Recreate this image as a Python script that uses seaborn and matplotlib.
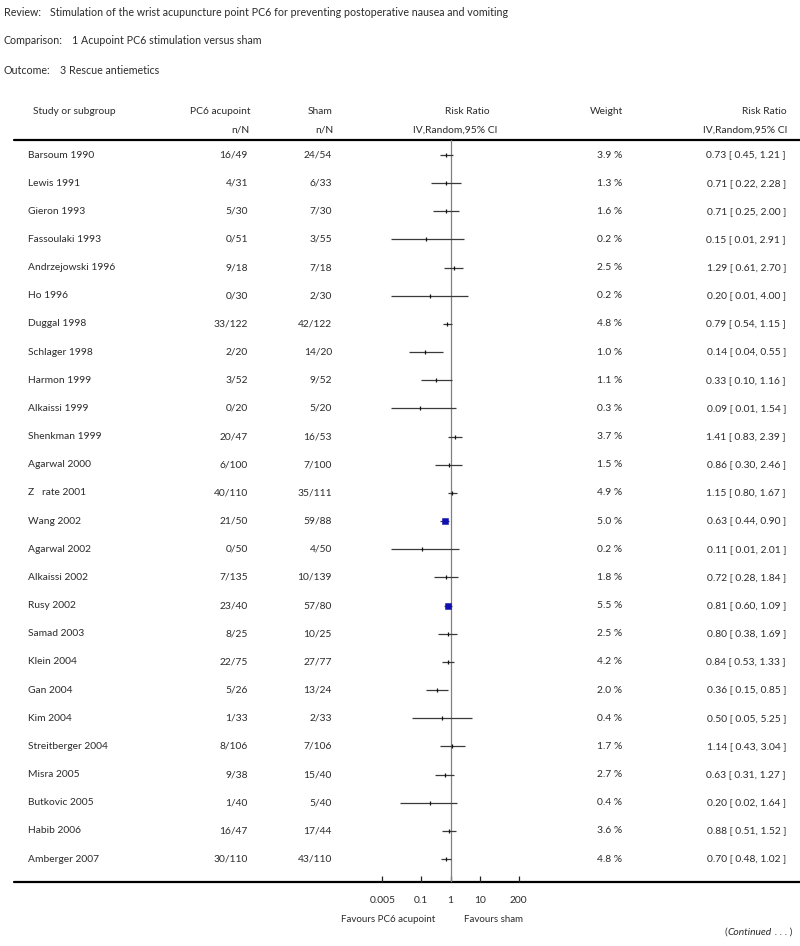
import numpy as np
import pandas as pd
import matplotlib
matplotlib.use("Agg")
import matplotlib.pyplot as plt
import seaborn as sns
from matplotlib.transforms import blended_transform_factory
from matplotlib.lines import Line2D

# ---------------- data ----------------
studies = ["Barsoum 1990", "Lewis 1991", "Gieron 1993", "Fassoulaki 1993",
           "Andrzejowski 1996", "Ho 1996", "Duggal 1998", "Schlager 1998",
           "Harmon 1999", "Alkaissi 1999", "Shenkman 1999", "Agarwal 2000",
           "Z   rate 2001", "Wang 2002", "Agarwal 2002", "Alkaissi 2002",
           "Rusy 2002", "Samad 2003", "Klein 2004", "Gan 2004", "Kim 2004",
           "Streitberger 2004", "Misra 2005", "Butkovic 2005", "Habib 2006",
           "Amberger 2007"]
pc6_nN = ["16/49", "4/31", "5/30", "0/51", "9/18", "0/30", "33/122", "2/20",
          "3/52", "0/20", "20/47", "6/100", "40/110", "21/50", "0/50", "7/135",
          "23/40", "8/25", "22/75", "5/26", "1/33", "8/106", "9/38", "1/40",
          "16/47", "30/110"]
sham_nN = ["24/54", "6/33", "7/30", "3/55", "7/18", "2/30", "42/122", "14/20",
           "9/52", "5/20", "16/53", "7/100", "35/111", "59/88", "4/50", "10/139",
           "57/80", "10/25", "27/77", "13/24", "2/33", "7/106", "15/40", "5/40",
           "17/44", "43/110"]
weights = [3.9, 1.3, 1.6, 0.2, 2.5, 0.2, 4.8, 1.0, 1.1, 0.3, 3.7, 1.5, 4.9,
           5.0, 0.2, 1.8, 5.5, 2.5, 4.2, 2.0, 0.4, 1.7, 2.7, 0.4, 3.6, 4.8]
rr = [0.73, 0.71, 0.71, 0.15, 1.29, 0.20, 0.79, 0.14, 0.33, 0.09, 1.41, 0.86,
      1.15, 0.63, 0.11, 0.72, 0.81, 0.80, 0.84, 0.36, 0.50, 1.14, 0.63, 0.20,
      0.88, 0.70]
ci_low = [0.45, 0.22, 0.25, 0.01, 0.61, 0.01, 0.54, 0.04, 0.10, 0.01, 0.83,
          0.30, 0.80, 0.44, 0.01, 0.28, 0.60, 0.38, 0.53, 0.15, 0.05, 0.43,
          0.31, 0.02, 0.51, 0.48]
ci_high = [1.21, 2.28, 2.00, 2.91, 2.70, 4.00, 1.15, 0.55, 1.16, 1.54, 2.39,
           2.46, 1.67, 0.90, 2.01, 1.84, 1.09, 1.69, 1.33, 0.85, 5.25, 3.04,
           1.27, 1.64, 1.52, 1.02]
axis_ticks = [0.005, 0.1, 1, 10, 200]
axis_ticklabels = ["0.005", "0.1", "1", "10", "200"]
title_labels = ["Review:", "Comparison:", "Outcome:"]
title_texts = ["Stimulation of the wrist acupuncture point PC6 for preventing postoperative nausea and vomiting",
               "1 Acupoint PC6 stimulation versus sham",
               "3 Rescue antiemetics"]

df = pd.DataFrame({"study": studies, "pc6": pc6_nN, "sham": sham_nN,
                   "weight": weights, "rr": rr, "lo": ci_low, "hi": ci_high})
df["row"] = np.arange(len(df))
df["big"] = df["weight"] >= 5.0

# ---------------- style ----------------
sns.set_style("white")
plt.rcParams["font.family"] = ["Lato", "DejaVu Sans"]
TXT = "#2b2b2b"
FS = 7.4

W, H = 800, 946
fig = plt.figure(figsize=(8, 9.46), dpi=100)

# pixel-frame overlay axes for text and rules
ax_t = fig.add_axes([0, 0, 1, 1], zorder=0)
ax_t.set_xlim(0, W)
ax_t.set_ylim(H, 0)
ax_t.axis("off")

# forest axes
x_left, x_right = 382.3, 518.7
y_top, y_bot = 140, 882
row0, step = 155, 28.16
ax = fig.add_axes([x_left / W, 1 - y_bot / H, (x_right - x_left) / W, (y_bot - y_top) / H], zorder=2)
ax.patch.set_alpha(0)
ax.set_xscale("log")
ax.set_xlim(0.005, 200)
ax.set_ylim((y_bot - row0) / step, (y_top - row0) / step)

ax.axvline(1, color="#808080", lw=0.9, zorder=1)
ax.hlines(df["row"], df["lo"], df["hi"], color="#3a3a3a", lw=0.9, zorder=2)
sns.scatterplot(data=df[~df["big"]], x="rr", y="row", marker="|", s=9,
                color="#111111", linewidth=0.9, ax=ax, zorder=3, legend=False)
sns.scatterplot(data=df[df["big"]], x="rr", y="row", marker="s", s=22,
                color="#1010b0", edgecolor="#1010b0", ax=ax, zorder=4, legend=False)

for s in ax.spines.values():
    s.set_visible(False)
ax.set_xlabel("")
ax.set_ylabel("")
ax.set_yticks([])
ax.set_xticks(axis_ticks)
ax.set_xticklabels(axis_ticklabels)
ax.minorticks_off()
ax.tick_params(axis="x", direction="in", length=4, width=0.9, color="#222222",
               pad=10, labelsize=FS, labelcolor=TXT, bottom=True)

# full-width rules
ax_t.add_line(Line2D([14, 800], [y_top, y_top], color="black", lw=1.6))
ax_t.add_line(Line2D([14, 800], [y_bot, y_bot], color="black", lw=1.6))

# titles
fig.canvas.draw()
renderer = fig.canvas.get_renderer()
for yy, lab, txt in zip([12, 41, 70], title_labels, title_texts):
    t = ax_t.text(4, yy, lab, fontsize=FS + 0.3, color=TXT, va="center", ha="left")
    w = t.get_window_extent(renderer).width
    ax_t.text(4 + w + 9.5, yy, txt, fontsize=FS + 0.3, color=TXT, va="center", ha="left")

# column headers
hdr = dict(fontsize=FS, color=TXT, va="center")
ax_t.text(33, 111, "Study or subgroup", ha="left", **hdr)
ax_t.text(250, 111, "PC6 acupoint", ha="right", **hdr)
ax_t.text(250, 130, "n/N", ha="right", **hdr)
ax_t.text(333, 111, "Sham", ha="right", **hdr)
ax_t.text(333, 130, "n/N", ha="right", **hdr)
ax_t.text(467, 111, "Risk Ratio", ha="center", **hdr)
ax_t.text(455, 130, "IV,Random,95% CI", ha="center", **hdr)
ax_t.text(623, 111, "Weight", ha="right", **hdr)
ax_t.text(787, 111, "Risk Ratio", ha="right", **hdr)
ax_t.text(787, 130, "IV,Random,95% CI", ha="right", **hdr)

# row text (x in pixels, y in forest-data rows)
tr = blended_transform_factory(ax_t.transData, ax.transData)
for _, r in df.iterrows():
    y = r["row"]
    kw = dict(transform=tr, fontsize=FS, color=TXT, va="center")
    ax_t.text(28, y, r["study"], ha="left", **kw)
    ax_t.text(248, y, r["pc6"], ha="right", **kw)
    ax_t.text(332, y, r["sham"], ha="right", **kw)
    ax_t.text(622, y, f"{r['weight']:.1f} %", ha="right", **kw)
    ax_t.text(786, y, f"{r['rr']:.2f} [ {r['lo']:.2f}, {r['hi']:.2f} ]", ha="right", **kw)

# favours labels
ax_t.text(435, 919, "Favours PC6 acupoint", ha="right", fontsize=FS * 0.95, color=TXT, va="center")
ax_t.text(464, 919, "Favours sham", ha="left", fontsize=FS * 0.95, color=TXT, va="center")

# (Continued . . . )
t3 = ax_t.text(792, 932, " . . . )", ha="right", fontsize=FS, color=TXT, va="center")
w3 = t3.get_window_extent(renderer).width
t2 = ax_t.text(792 - w3, 932, "Continued", ha="right", fontsize=FS, color=TXT, va="center", style="italic")
w2 = t2.get_window_extent(renderer).width
ax_t.text(792 - w3 - w2, 932, "(", ha="right", fontsize=FS, color=TXT, va="center")

fig.savefig("out.png", dpi=100, facecolor="white")
